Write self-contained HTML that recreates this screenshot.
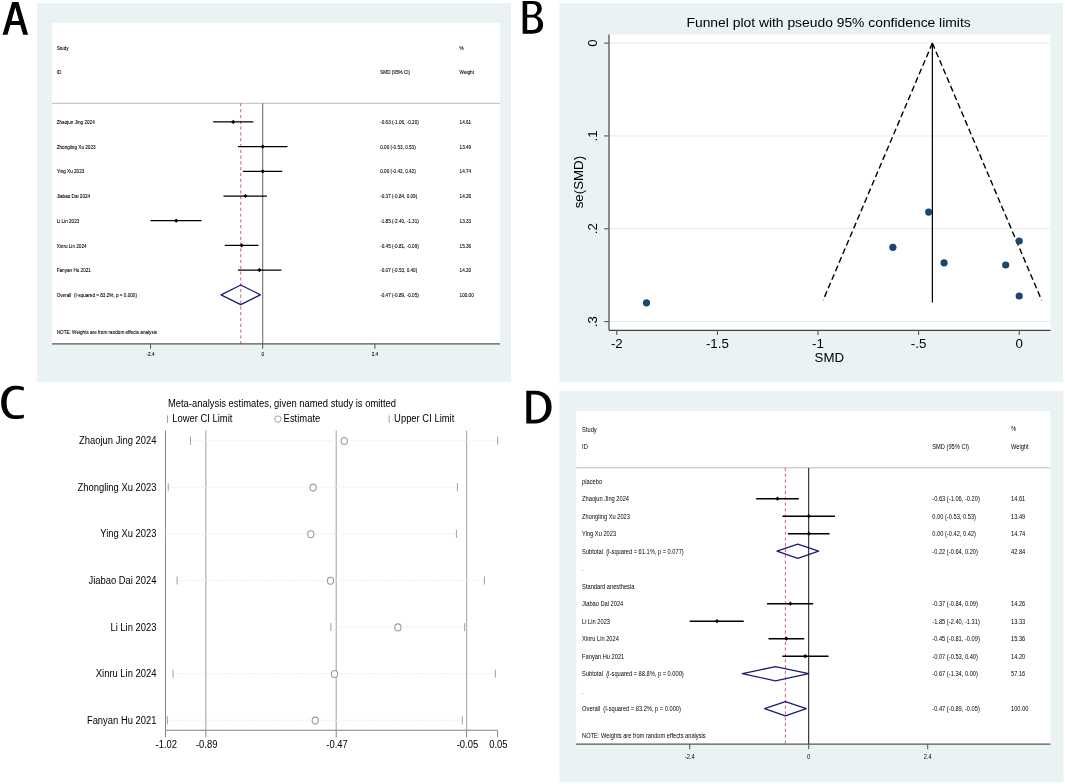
<!DOCTYPE html>
<html><head><meta charset="utf-8"><style>
html,body{margin:0;padding:0;background:#fff;width:1065px;height:784px;overflow:hidden}
svg{display:block;will-change:transform}
text{font-family:"Liberation Sans",sans-serif;white-space:pre}
</style></head><body>
<svg width="1065" height="784" viewBox="0 0 1065 784">
<rect x="37.00" y="3.00" width="474.00" height="379.00" fill="#eaf2f3"/>
<rect x="52.00" y="23.00" width="448.00" height="321.00" fill="#ffffff"/>
<text transform="translate(56.70,49.78) scale(0.760,1)" font-size="6.1" text-anchor="start" fill="#000" stroke="#000" stroke-width="0.1" >Study</text>
<text transform="translate(56.70,74.28) scale(0.760,1)" font-size="6.1" text-anchor="start" fill="#000" stroke="#000" stroke-width="0.1" >ID</text>
<text transform="translate(380.20,74.28) scale(0.760,1)" font-size="6.1" text-anchor="start" fill="#000" stroke="#000" stroke-width="0.1" >SMD (95% CI)</text>
<text transform="translate(459.60,49.58) scale(0.760,1)" font-size="6.1" text-anchor="start" fill="#000" stroke="#000" stroke-width="0.1" >%</text>
<text transform="translate(459.60,74.28) scale(0.760,1)" font-size="6.1" text-anchor="start" fill="#000" stroke="#000" stroke-width="0.1" >Weight</text>
<line x1="52.00" y1="103.30" x2="500.00" y2="103.30" stroke="#bcbcbc" stroke-width="1" />
<line x1="262.70" y1="103.30" x2="262.70" y2="343.80" stroke="#707070" stroke-width="1.1" />
<line x1="240.73" y1="103.30" x2="240.73" y2="343.80" stroke="#c97584" stroke-width="1.1" stroke-dasharray="3.2 2.6"/>
<text transform="translate(56.70,124.08) scale(0.760,1)" font-size="6.1" text-anchor="start" fill="#000" stroke="#000" stroke-width="0.1" >Zhaojun Jing 2024</text>
<text transform="translate(380.20,124.08) scale(0.760,1)" font-size="6.1" text-anchor="start" fill="#000" stroke="#000" stroke-width="0.1" >-0.63 (-1.06, -0.20)</text>
<text transform="translate(459.60,124.08) scale(0.760,1)" font-size="6.1" text-anchor="start" fill="#000" stroke="#000" stroke-width="0.1" >14.61</text>
<line x1="213.14" y1="121.90" x2="253.35" y2="121.90" stroke="#000" stroke-width="1.25" />
<polygon points="231.15,121.90 233.25,119.80 235.35,121.90 233.25,124.00" fill="#000"/>
<text transform="translate(56.70,148.78) scale(0.760,1)" font-size="6.1" text-anchor="start" fill="#000" stroke="#000" stroke-width="0.1" >Zhongling Xu 2023</text>
<text transform="translate(380.20,148.78) scale(0.760,1)" font-size="6.1" text-anchor="start" fill="#000" stroke="#000" stroke-width="0.1" >0.00 (-0.53, 0.53)</text>
<text transform="translate(459.60,148.78) scale(0.760,1)" font-size="6.1" text-anchor="start" fill="#000" stroke="#000" stroke-width="0.1" >13.49</text>
<line x1="237.92" y1="146.60" x2="287.48" y2="146.60" stroke="#000" stroke-width="1.25" />
<polygon points="260.60,146.60 262.70,144.50 264.80,146.60 262.70,148.70" fill="#000"/>
<text transform="translate(56.70,173.48) scale(0.760,1)" font-size="6.1" text-anchor="start" fill="#000" stroke="#000" stroke-width="0.1" >Ying Xu 2023</text>
<text transform="translate(380.20,173.48) scale(0.760,1)" font-size="6.1" text-anchor="start" fill="#000" stroke="#000" stroke-width="0.1" >0.00 (-0.42, 0.42)</text>
<text transform="translate(459.60,173.48) scale(0.760,1)" font-size="6.1" text-anchor="start" fill="#000" stroke="#000" stroke-width="0.1" >14.74</text>
<line x1="243.06" y1="171.30" x2="282.33" y2="171.30" stroke="#000" stroke-width="1.25" />
<polygon points="260.60,171.30 262.70,169.20 264.80,171.30 262.70,173.40" fill="#000"/>
<text transform="translate(56.70,198.18) scale(0.760,1)" font-size="6.1" text-anchor="start" fill="#000" stroke="#000" stroke-width="0.1" >Jiabao Dai 2024</text>
<text transform="translate(380.20,198.18) scale(0.760,1)" font-size="6.1" text-anchor="start" fill="#000" stroke="#000" stroke-width="0.1" >-0.37 (-0.84, 0.09)</text>
<text transform="translate(459.60,198.18) scale(0.760,1)" font-size="6.1" text-anchor="start" fill="#000" stroke="#000" stroke-width="0.1" >14.26</text>
<line x1="223.43" y1="196.00" x2="266.91" y2="196.00" stroke="#000" stroke-width="1.25" />
<polygon points="243.30,196.00 245.40,193.90 247.50,196.00 245.40,198.10" fill="#000"/>
<text transform="translate(56.70,222.88) scale(0.760,1)" font-size="6.1" text-anchor="start" fill="#000" stroke="#000" stroke-width="0.1" >Li Lin 2023</text>
<text transform="translate(380.20,222.88) scale(0.760,1)" font-size="6.1" text-anchor="start" fill="#000" stroke="#000" stroke-width="0.1" >-1.85 (-2.40, -1.31)</text>
<text transform="translate(459.60,222.88) scale(0.760,1)" font-size="6.1" text-anchor="start" fill="#000" stroke="#000" stroke-width="0.1" >13.33</text>
<line x1="150.50" y1="220.70" x2="201.46" y2="220.70" stroke="#000" stroke-width="1.25" />
<polygon points="174.11,220.70 176.21,218.60 178.31,220.70 176.21,222.80" fill="#000"/>
<text transform="translate(56.70,247.58) scale(0.760,1)" font-size="6.1" text-anchor="start" fill="#000" stroke="#000" stroke-width="0.1" >Xinru Lin 2024</text>
<text transform="translate(380.20,247.58) scale(0.760,1)" font-size="6.1" text-anchor="start" fill="#000" stroke="#000" stroke-width="0.1" >-0.45 (-0.81, -0.09)</text>
<text transform="translate(459.60,247.58) scale(0.760,1)" font-size="6.1" text-anchor="start" fill="#000" stroke="#000" stroke-width="0.1" >15.36</text>
<line x1="224.83" y1="245.40" x2="258.49" y2="245.40" stroke="#000" stroke-width="1.25" />
<polygon points="239.56,245.40 241.66,243.30 243.76,245.40 241.66,247.50" fill="#000"/>
<text transform="translate(56.70,272.28) scale(0.760,1)" font-size="6.1" text-anchor="start" fill="#000" stroke="#000" stroke-width="0.1" >Fanyan Hu 2021</text>
<text transform="translate(380.20,272.28) scale(0.760,1)" font-size="6.1" text-anchor="start" fill="#000" stroke="#000" stroke-width="0.1" >-0.07 (-0.53, 0.40)</text>
<text transform="translate(459.60,272.28) scale(0.760,1)" font-size="6.1" text-anchor="start" fill="#000" stroke="#000" stroke-width="0.1" >14.20</text>
<line x1="237.92" y1="270.10" x2="281.40" y2="270.10" stroke="#000" stroke-width="1.25" />
<polygon points="257.33,270.10 259.43,268.00 261.53,270.10 259.43,272.20" fill="#000"/>
<text transform="translate(56.70,296.98) scale(0.760,1)" font-size="6.1" text-anchor="start" fill="#000" stroke="#000" stroke-width="0.1" >Overall  (I-squared = 83.2%, p = 0.000)</text>
<text transform="translate(380.20,296.98) scale(0.760,1)" font-size="6.1" text-anchor="start" fill="#000" stroke="#000" stroke-width="0.1" >-0.47 (-0.89, -0.05)</text>
<text transform="translate(459.60,296.98) scale(0.760,1)" font-size="6.1" text-anchor="start" fill="#000" stroke="#000" stroke-width="0.1" >100.00</text>
<polygon points="221.09,294.80 240.73,285.00 260.36,294.80 240.73,304.60" fill="none" stroke="#1a1a78" stroke-width="1.3" stroke-linejoin="round"/>
<text transform="translate(56.70,333.78) scale(0.760,1)" font-size="6.1" text-anchor="start" fill="#000" stroke="#000" stroke-width="0.1" >NOTE: Weights are from random effects analysis</text>
<line x1="52.00" y1="343.80" x2="500.00" y2="343.80" stroke="#555" stroke-width="1.3" />
<line x1="150.50" y1="343.80" x2="150.50" y2="348.80" stroke="#555" stroke-width="1" />
<text transform="translate(150.50,355.98) scale(0.760,1)" font-size="6.1" text-anchor="middle" fill="#000" stroke="#000" stroke-width="0.1" >-2.4</text>
<line x1="262.70" y1="343.80" x2="262.70" y2="348.80" stroke="#555" stroke-width="1" />
<text transform="translate(262.70,355.98) scale(0.760,1)" font-size="6.1" text-anchor="middle" fill="#000" stroke="#000" stroke-width="0.1" >0</text>
<line x1="374.90" y1="343.80" x2="374.90" y2="348.80" stroke="#555" stroke-width="1" />
<text transform="translate(374.90,355.98) scale(0.760,1)" font-size="6.1" text-anchor="middle" fill="#000" stroke="#000" stroke-width="0.1" >2.4</text>
<rect x="559.50" y="391.00" width="504.00" height="391.00" fill="#eaf2f3"/>
<rect x="576.20" y="411.00" width="474.20" height="333.20" fill="#ffffff"/>
<text transform="translate(582.10,431.69) scale(0.760,1)" font-size="7.5" text-anchor="start" fill="#000"  >Study</text>
<text transform="translate(582.10,448.79) scale(0.760,1)" font-size="7.5" text-anchor="start" fill="#000"  >ID</text>
<text transform="translate(932.30,448.79) scale(0.760,1)" font-size="7.5" text-anchor="start" fill="#000"  >SMD (95% CI)</text>
<text transform="translate(1011.00,431.29) scale(0.760,1)" font-size="7.5" text-anchor="start" fill="#000"  >%</text>
<text transform="translate(1011.00,448.79) scale(0.760,1)" font-size="7.5" text-anchor="start" fill="#000"  >Weight</text>
<line x1="576.20" y1="467.80" x2="1050.40" y2="467.80" stroke="#bcbcbc" stroke-width="1" />
<line x1="808.70" y1="467.80" x2="808.70" y2="744.20" stroke="#111" stroke-width="1.0" />
<line x1="785.40" y1="467.80" x2="785.40" y2="744.20" stroke="#c97584" stroke-width="1.1" stroke-dasharray="3.2 2.6"/>
<text transform="translate(582.10,483.88) scale(0.760,1)" font-size="7.5" text-anchor="start" fill="#000"  >placebo</text>
<text transform="translate(582.10,501.38) scale(0.760,1)" font-size="7.5" text-anchor="start" fill="#000"  >Zhaojun Jing 2024</text>
<text transform="translate(932.30,501.38) scale(0.760,1)" font-size="7.5" text-anchor="start" fill="#000"  >-0.63 (-1.06, -0.20)</text>
<text transform="translate(1011.00,501.38) scale(0.760,1)" font-size="7.5" text-anchor="start" fill="#000"  >14.61</text>
<line x1="756.15" y1="498.70" x2="798.78" y2="498.70" stroke="#000" stroke-width="1.4" />
<polygon points="775.36,498.70 777.46,496.60 779.56,498.70 777.46,500.80" fill="#000"/>
<text transform="translate(582.10,518.88) scale(0.760,1)" font-size="7.5" text-anchor="start" fill="#000"  >Zhongling Xu 2023</text>
<text transform="translate(932.30,518.88) scale(0.760,1)" font-size="7.5" text-anchor="start" fill="#000"  >0.00 (-0.53, 0.53)</text>
<text transform="translate(1011.00,518.88) scale(0.760,1)" font-size="7.5" text-anchor="start" fill="#000"  >13.49</text>
<line x1="782.42" y1="516.20" x2="834.98" y2="516.20" stroke="#000" stroke-width="1.4" />
<polygon points="806.60,516.20 808.70,514.10 810.80,516.20 808.70,518.30" fill="#000"/>
<text transform="translate(582.10,536.38) scale(0.760,1)" font-size="7.5" text-anchor="start" fill="#000"  >Ying Xu 2023</text>
<text transform="translate(932.30,536.38) scale(0.760,1)" font-size="7.5" text-anchor="start" fill="#000"  >0.00 (-0.42, 0.42)</text>
<text transform="translate(1011.00,536.38) scale(0.760,1)" font-size="7.5" text-anchor="start" fill="#000"  >14.74</text>
<line x1="787.88" y1="533.70" x2="829.52" y2="533.70" stroke="#000" stroke-width="1.4" />
<polygon points="806.60,533.70 808.70,531.60 810.80,533.70 808.70,535.80" fill="#000"/>
<text transform="translate(582.10,606.38) scale(0.760,1)" font-size="7.5" text-anchor="start" fill="#000"  >Jiabao Dai 2024</text>
<text transform="translate(932.30,606.38) scale(0.760,1)" font-size="7.5" text-anchor="start" fill="#000"  >-0.37 (-0.84, 0.09)</text>
<text transform="translate(1011.00,606.38) scale(0.760,1)" font-size="7.5" text-anchor="start" fill="#000"  >14.26</text>
<line x1="767.05" y1="603.70" x2="813.16" y2="603.70" stroke="#000" stroke-width="1.4" />
<polygon points="788.26,603.70 790.36,601.60 792.46,603.70 790.36,605.80" fill="#000"/>
<text transform="translate(582.10,623.88) scale(0.760,1)" font-size="7.5" text-anchor="start" fill="#000"  >Li Lin 2023</text>
<text transform="translate(932.30,623.88) scale(0.760,1)" font-size="7.5" text-anchor="start" fill="#000"  >-1.85 (-2.40, -1.31)</text>
<text transform="translate(1011.00,623.88) scale(0.760,1)" font-size="7.5" text-anchor="start" fill="#000"  >13.33</text>
<line x1="689.71" y1="621.20" x2="743.75" y2="621.20" stroke="#000" stroke-width="1.4" />
<polygon points="714.88,621.20 716.98,619.10 719.08,621.20 716.98,623.30" fill="#000"/>
<text transform="translate(582.10,641.38) scale(0.760,1)" font-size="7.5" text-anchor="start" fill="#000"  >Xinru Lin 2024</text>
<text transform="translate(932.30,641.38) scale(0.760,1)" font-size="7.5" text-anchor="start" fill="#000"  >-0.45 (-0.81, -0.09)</text>
<text transform="translate(1011.00,641.38) scale(0.760,1)" font-size="7.5" text-anchor="start" fill="#000"  >15.36</text>
<line x1="768.54" y1="638.70" x2="804.24" y2="638.70" stroke="#000" stroke-width="1.4" />
<polygon points="784.29,638.70 786.39,636.60 788.49,638.70 786.39,640.80" fill="#000"/>
<text transform="translate(582.10,658.88) scale(0.760,1)" font-size="7.5" text-anchor="start" fill="#000"  >Fanyan Hu 2021</text>
<text transform="translate(932.30,658.88) scale(0.760,1)" font-size="7.5" text-anchor="start" fill="#000"  >-0.07 (-0.53, 0.40)</text>
<text transform="translate(1011.00,658.88) scale(0.760,1)" font-size="7.5" text-anchor="start" fill="#000"  >14.20</text>
<line x1="782.42" y1="656.20" x2="828.53" y2="656.20" stroke="#000" stroke-width="1.4" />
<polygon points="803.13,656.20 805.23,654.10 807.33,656.20 805.23,658.30" fill="#000"/>
<text transform="translate(582.10,553.88) scale(0.760,1)" font-size="7.5" text-anchor="start" fill="#000"  >Subtotal  (I-squared = 61.1%, p = 0.077)</text>
<text transform="translate(932.30,553.88) scale(0.760,1)" font-size="7.5" text-anchor="start" fill="#000"  >-0.22 (-0.64, 0.20)</text>
<text transform="translate(1011.00,553.88) scale(0.760,1)" font-size="7.5" text-anchor="start" fill="#000"  >42.84</text>
<polygon points="776.97,551.20 797.79,544.10 818.62,551.20 797.79,558.30" fill="none" stroke="#1a1a78" stroke-width="1.3" stroke-linejoin="round"/>
<text transform="translate(582.10,571.38) scale(0.760,1)" font-size="7.5" text-anchor="start" fill="#000"  >.</text>
<text transform="translate(582.10,588.88) scale(0.760,1)" font-size="7.5" text-anchor="start" fill="#000"  >Standard anesthesia</text>
<text transform="translate(582.10,676.38) scale(0.760,1)" font-size="7.5" text-anchor="start" fill="#000"  >Subtotal  (I-squared = 88.8%, p = 0.000)</text>
<text transform="translate(932.30,676.38) scale(0.760,1)" font-size="7.5" text-anchor="start" fill="#000"  >-0.67 (-1.34, 0.00)</text>
<text transform="translate(1011.00,676.38) scale(0.760,1)" font-size="7.5" text-anchor="start" fill="#000"  >57.16</text>
<polygon points="742.26,673.70 775.48,666.60 808.70,673.70 775.48,680.80" fill="none" stroke="#1a1a78" stroke-width="1.3" stroke-linejoin="round"/>
<text transform="translate(582.10,693.88) scale(0.760,1)" font-size="7.5" text-anchor="start" fill="#000"  >.</text>
<text transform="translate(582.10,711.38) scale(0.760,1)" font-size="7.5" text-anchor="start" fill="#000"  >Overall  (I-squared = 83.2%, p = 0.000)</text>
<text transform="translate(932.30,711.38) scale(0.760,1)" font-size="7.5" text-anchor="start" fill="#000"  >-0.47 (-0.89, -0.05)</text>
<text transform="translate(1011.00,711.38) scale(0.760,1)" font-size="7.5" text-anchor="start" fill="#000"  >100.00</text>
<polygon points="764.57,708.70 785.40,701.60 806.22,708.70 785.40,715.80" fill="none" stroke="#1a1a78" stroke-width="1.3" stroke-linejoin="round"/>
<text transform="translate(582.10,738.38) scale(0.760,1)" font-size="7.5" text-anchor="start" fill="#000"  >NOTE: Weights are from random effects analysis</text>
<line x1="576.20" y1="744.20" x2="1050.40" y2="744.20" stroke="#555" stroke-width="1.3" />
<line x1="689.71" y1="744.20" x2="689.71" y2="749.20" stroke="#555" stroke-width="1" />
<text transform="translate(689.71,758.88) scale(0.760,1)" font-size="7.5" text-anchor="middle" fill="#000"  >-2.4</text>
<line x1="808.70" y1="744.20" x2="808.70" y2="749.20" stroke="#555" stroke-width="1" />
<text transform="translate(808.70,758.88) scale(0.760,1)" font-size="7.5" text-anchor="middle" fill="#000"  >0</text>
<line x1="927.69" y1="744.20" x2="927.69" y2="749.20" stroke="#555" stroke-width="1" />
<text transform="translate(927.69,758.88) scale(0.760,1)" font-size="7.5" text-anchor="middle" fill="#000"  >2.4</text>
<rect x="559.50" y="3.00" width="503.50" height="379.00" fill="#eaf2f3"/>
<rect x="609.00" y="34.50" width="441.50" height="295.50" fill="#ffffff"/>
<text transform="translate(686.50,26.90) scale(1.020,1)" font-size="13.6" text-anchor="start" fill="#000"  >Funnel plot with pseudo 95% confidence limits</text>
<line x1="609.00" y1="43.10" x2="1050.50" y2="43.10" stroke="#e4ecee" stroke-width="1" />
<line x1="609.00" y1="135.93" x2="1050.50" y2="135.93" stroke="#e4ecee" stroke-width="1" />
<line x1="609.00" y1="228.76" x2="1050.50" y2="228.76" stroke="#e4ecee" stroke-width="1" />
<line x1="609.00" y1="321.59" x2="1050.50" y2="321.59" stroke="#e4ecee" stroke-width="1" />
<line x1="932.38" y1="43.10" x2="932.38" y2="302.60" stroke="#000" stroke-width="1.2" />
<line x1="932.38" y1="43.10" x2="823.12" y2="300.30" stroke="#000" stroke-width="1.4" stroke-dasharray="6 3.3"/>
<line x1="932.38" y1="43.10" x2="1041.64" y2="300.30" stroke="#000" stroke-width="1.4" stroke-dasharray="6 3.3"/>
<circle cx="928.7" cy="212.1" r="3.6" fill="#1a476f"/>
<circle cx="892.9" cy="247.3" r="3.6" fill="#1a476f"/>
<circle cx="944.1" cy="262.8" r="3.6" fill="#1a476f"/>
<circle cx="1005.7" cy="265" r="3.6" fill="#1a476f"/>
<circle cx="1019.2" cy="241" r="3.6" fill="#1a476f"/>
<circle cx="1019.2" cy="296" r="3.6" fill="#1a476f"/>
<circle cx="646.5" cy="302.8" r="3.6" fill="#1a476f"/>
<line x1="609.00" y1="34.50" x2="609.00" y2="330.30" stroke="#454545" stroke-width="1.2" />
<line x1="609.00" y1="330.30" x2="1050.50" y2="330.30" stroke="#454545" stroke-width="1.2" />
<line x1="604.20" y1="43.10" x2="609.00" y2="43.10" stroke="#555" stroke-width="1.1" />
<text transform="translate(596.76,43.10) rotate(-90)" font-size="13.3" text-anchor="middle">0</text>
<line x1="604.20" y1="135.93" x2="609.00" y2="135.93" stroke="#555" stroke-width="1.1" />
<text transform="translate(596.76,135.93) rotate(-90)" font-size="13.3" text-anchor="middle">.1</text>
<line x1="604.20" y1="228.76" x2="609.00" y2="228.76" stroke="#555" stroke-width="1.1" />
<text transform="translate(596.76,228.76) rotate(-90)" font-size="13.3" text-anchor="middle">.2</text>
<line x1="604.20" y1="321.59" x2="609.00" y2="321.59" stroke="#555" stroke-width="1.1" />
<text transform="translate(596.76,321.59) rotate(-90)" font-size="13.3" text-anchor="middle">.3</text>
<text transform="translate(583.29,182.1) rotate(-90)" font-size="13.3" text-anchor="middle">se(SMD)</text>
<line x1="616.80" y1="330.30" x2="616.80" y2="335.00" stroke="#555" stroke-width="1.1" />
<text transform="translate(616.80,348.46) scale(1.000,1)" font-size="13.3" text-anchor="middle" fill="#000"  >-2</text>
<line x1="717.40" y1="330.30" x2="717.40" y2="335.00" stroke="#555" stroke-width="1.1" />
<text transform="translate(717.40,348.46) scale(1.000,1)" font-size="13.3" text-anchor="middle" fill="#000"  >-1.5</text>
<line x1="818.00" y1="330.30" x2="818.00" y2="335.00" stroke="#555" stroke-width="1.1" />
<text transform="translate(818.00,348.46) scale(1.000,1)" font-size="13.3" text-anchor="middle" fill="#000"  >-1</text>
<line x1="918.60" y1="330.30" x2="918.60" y2="335.00" stroke="#555" stroke-width="1.1" />
<text transform="translate(918.60,348.46) scale(1.000,1)" font-size="13.3" text-anchor="middle" fill="#000"  >-.5</text>
<line x1="1019.20" y1="330.30" x2="1019.20" y2="335.00" stroke="#555" stroke-width="1.1" />
<text transform="translate(1019.20,348.46) scale(1.000,1)" font-size="13.3" text-anchor="middle" fill="#000"  >0</text>
<text transform="translate(829.30,362.26) scale(1.000,1)" font-size="13.3" text-anchor="middle" fill="#000"  >SMD</text>
<text transform="translate(167.90,407.30) scale(0.820,1)" font-size="11.5" text-anchor="start" fill="#000"  >Meta-analysis estimates, given named study is omitted</text>
<line x1="167.50" y1="415.40" x2="167.50" y2="422.90" stroke="#a0a0a0" stroke-width="1" />
<text transform="translate(172.20,422.30) scale(0.820,1)" font-size="11.5" text-anchor="start" fill="#000"  >Lower CI Limit</text>
<circle cx="277.9" cy="419.1" r="3.2" fill="none" stroke="#a0a0a0" stroke-width="1"/>
<text transform="translate(283.60,422.30) scale(0.820,1)" font-size="11.5" text-anchor="start" fill="#000"  >Estimate</text>
<line x1="389.20" y1="415.40" x2="389.20" y2="422.90" stroke="#a0a0a0" stroke-width="1" />
<text transform="translate(394.10,422.30) scale(0.820,1)" font-size="11.5" text-anchor="start" fill="#000"  >Upper CI Limit</text>
<line x1="205.85" y1="430.50" x2="205.85" y2="730.30" stroke="#b0b0b0" stroke-width="1.2" />
<line x1="336.22" y1="430.50" x2="336.22" y2="730.30" stroke="#b0b0b0" stroke-width="1.2" />
<line x1="466.59" y1="430.50" x2="466.59" y2="730.30" stroke="#b0b0b0" stroke-width="1.2" />
<line x1="165.50" y1="430.50" x2="165.50" y2="730.30" stroke="#858585" stroke-width="1.0" />
<line x1="165.50" y1="730.30" x2="497.63" y2="730.30" stroke="#808080" stroke-width="1.1" />
<line x1="165.50" y1="730.30" x2="165.50" y2="737.30" stroke="#858585" stroke-width="1" />
<text transform="translate(166.30,747.62) scale(0.820,1)" font-size="11.5" text-anchor="middle" fill="#000"  >-1.02</text>
<line x1="205.85" y1="730.30" x2="205.85" y2="737.30" stroke="#858585" stroke-width="1" />
<text transform="translate(206.65,747.62) scale(0.820,1)" font-size="11.5" text-anchor="middle" fill="#000"  >-0.89</text>
<line x1="336.22" y1="730.30" x2="336.22" y2="737.30" stroke="#858585" stroke-width="1" />
<text transform="translate(337.02,747.62) scale(0.820,1)" font-size="11.5" text-anchor="middle" fill="#000"  >-0.47</text>
<line x1="466.59" y1="730.30" x2="466.59" y2="737.30" stroke="#858585" stroke-width="1" />
<text transform="translate(467.39,747.62) scale(0.820,1)" font-size="11.5" text-anchor="middle" fill="#000"  >-0.05</text>
<line x1="497.63" y1="730.30" x2="497.63" y2="737.30" stroke="#858585" stroke-width="1" />
<text transform="translate(498.43,747.62) scale(0.820,1)" font-size="11.5" text-anchor="middle" fill="#000"  >0.05</text>
<text transform="translate(156.50,444.22) scale(0.820,1)" font-size="11.5" text-anchor="end" fill="#000"  >Zhaojun Jing 2024</text>
<line x1="190.50" y1="440.70" x2="497.70" y2="440.70" stroke="#efefef" stroke-width="1" stroke-dasharray="2 1"/>
<line x1="190.50" y1="436.70" x2="190.50" y2="444.70" stroke="#a0a0a0" stroke-width="1" />
<line x1="497.70" y1="436.70" x2="497.70" y2="444.70" stroke="#a0a0a0" stroke-width="1" />
<ellipse cx="344.3" cy="441.00" rx="3.1" ry="3.5" fill="#fff" stroke="#9a9a9a" stroke-width="1.1"/>
<text transform="translate(156.50,490.82) scale(0.820,1)" font-size="11.5" text-anchor="end" fill="#000"  >Zhongling Xu 2023</text>
<line x1="168.20" y1="487.30" x2="457.40" y2="487.30" stroke="#efefef" stroke-width="1" stroke-dasharray="2 1"/>
<line x1="168.20" y1="483.30" x2="168.20" y2="491.30" stroke="#a0a0a0" stroke-width="1" />
<line x1="457.40" y1="483.30" x2="457.40" y2="491.30" stroke="#a0a0a0" stroke-width="1" />
<ellipse cx="313.1" cy="487.60" rx="3.1" ry="3.5" fill="#fff" stroke="#9a9a9a" stroke-width="1.1"/>
<text transform="translate(156.50,537.42) scale(0.820,1)" font-size="11.5" text-anchor="end" fill="#000"  >Ying Xu 2023</text>
<line x1="165.40" y1="533.90" x2="456.40" y2="533.90" stroke="#efefef" stroke-width="1" stroke-dasharray="2 1"/>
<line x1="165.40" y1="529.90" x2="165.40" y2="537.90" stroke="#a0a0a0" stroke-width="1" />
<line x1="456.40" y1="529.90" x2="456.40" y2="537.90" stroke="#a0a0a0" stroke-width="1" />
<ellipse cx="310.8" cy="534.20" rx="3.1" ry="3.5" fill="#fff" stroke="#9a9a9a" stroke-width="1.1"/>
<text transform="translate(156.50,584.02) scale(0.820,1)" font-size="11.5" text-anchor="end" fill="#000"  >Jiabao Dai 2024</text>
<line x1="177.10" y1="580.50" x2="484.40" y2="580.50" stroke="#efefef" stroke-width="1" stroke-dasharray="2 1"/>
<line x1="177.10" y1="576.50" x2="177.10" y2="584.50" stroke="#a0a0a0" stroke-width="1" />
<line x1="484.40" y1="576.50" x2="484.40" y2="584.50" stroke="#a0a0a0" stroke-width="1" />
<ellipse cx="330.5" cy="580.80" rx="3.1" ry="3.5" fill="#fff" stroke="#9a9a9a" stroke-width="1.1"/>
<text transform="translate(156.50,630.62) scale(0.820,1)" font-size="11.5" text-anchor="end" fill="#000"  >Li Lin 2023</text>
<line x1="330.90" y1="627.10" x2="464.60" y2="627.10" stroke="#efefef" stroke-width="1" stroke-dasharray="2 1"/>
<line x1="330.90" y1="623.10" x2="330.90" y2="631.10" stroke="#a0a0a0" stroke-width="1" />
<line x1="464.60" y1="623.10" x2="464.60" y2="631.10" stroke="#a0a0a0" stroke-width="1" />
<ellipse cx="397.90000000000003" cy="627.40" rx="3.1" ry="3.5" fill="#fff" stroke="#9a9a9a" stroke-width="1.1"/>
<text transform="translate(156.50,677.22) scale(0.820,1)" font-size="11.5" text-anchor="end" fill="#000"  >Xinru Lin 2024</text>
<line x1="173.00" y1="673.70" x2="495.40" y2="673.70" stroke="#efefef" stroke-width="1" stroke-dasharray="2 1"/>
<line x1="173.00" y1="669.70" x2="173.00" y2="677.70" stroke="#a0a0a0" stroke-width="1" />
<line x1="495.40" y1="669.70" x2="495.40" y2="677.70" stroke="#a0a0a0" stroke-width="1" />
<ellipse cx="334.5" cy="674.00" rx="3.1" ry="3.5" fill="#fff" stroke="#9a9a9a" stroke-width="1.1"/>
<text transform="translate(156.50,723.82) scale(0.820,1)" font-size="11.5" text-anchor="end" fill="#000"  >Fanyan Hu 2021</text>
<line x1="167.40" y1="720.30" x2="462.30" y2="720.30" stroke="#efefef" stroke-width="1" stroke-dasharray="2 1"/>
<line x1="167.40" y1="716.30" x2="167.40" y2="724.30" stroke="#a0a0a0" stroke-width="1" />
<line x1="462.30" y1="716.30" x2="462.30" y2="724.30" stroke="#a0a0a0" stroke-width="1" />
<ellipse cx="315.3" cy="720.60" rx="3.1" ry="3.5" fill="#fff" stroke="#9a9a9a" stroke-width="1.1"/>
<path fill="#000" fill-rule="evenodd" d="M2.6,34.7 L12.2,2.0 L18.4,2.0 L28.1,34.7 L23.2,34.7 L20.32,25.0 L10.35,25.0 L7.5,34.7 Z M15.35,7.6 L19.1,20.9 L11.55,20.9 Z"/>
<path fill="#000" fill-rule="evenodd" d="M522.65,1 L533,1 C539,1 541.8,4 541.8,8.5 C541.8,12 539.5,14.8 536.5,16 C540.5,17 543.1,20.5 543.1,25 C543.1,30.5 539,33.7 532,33.7 L522.65,33.7 Z M527.2,4.1 L532,4.1 C535.5,4.1 537.2,6 537.2,9 C537.2,12.5 534.8,14.8 531.5,14.8 L527.2,14.8 Z M527.2,17.6 L532.5,17.6 C536,17.6 538.2,20.2 538.2,23.9 C538.2,28 535.5,30.1 531.5,30.1 L527.2,30.1 Z"/>
<path fill="#000" d="M23.8,386.9 C21,386 18,385.7 15,385.7 C6.5,385.7 1.15,392.5 1.15,402.4 C1.15,412.5 6.5,419 15,419 C18.5,419 21.5,418.6 23.8,418 L23.8,414.4 C21.5,415 19,415.3 16,415.3 C10,415.3 6.6,410.5 6.6,402.4 C6.6,394.5 10.5,389.5 16,389.5 C19,389.5 21.5,390 23.8,390.6 Z"/>
<path fill="#000" fill-rule="evenodd" d="M526.3,390.7 L535,390.7 C545.5,390.7 551.6,397 551.6,406.8 C551.6,417 545,423.5 534.5,423.5 L526.3,423.5 Z M531.2,394.5 L535,394.5 C542.5,394.5 546.1,399.5 546.1,406.9 C546.1,414.8 542,419.7 534.5,419.7 L531.2,419.7 Z"/>
</svg>
</body></html>
